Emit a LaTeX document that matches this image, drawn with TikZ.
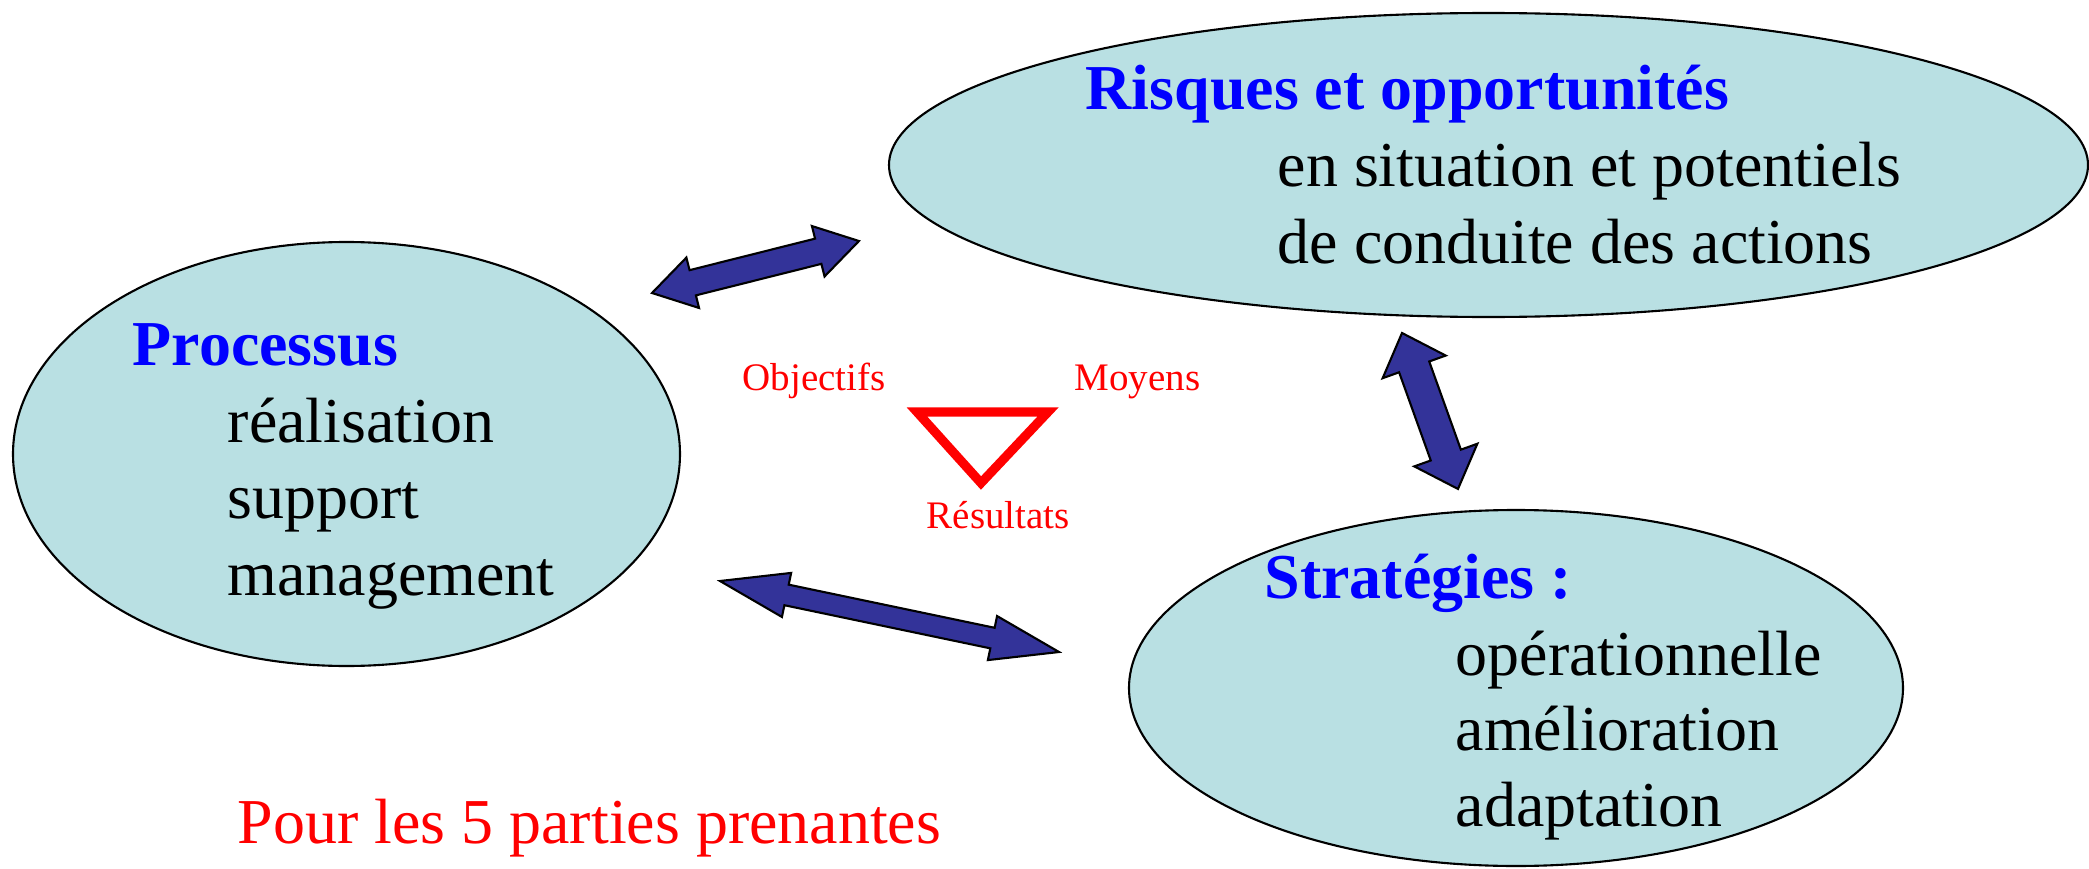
\documentclass[tikz,border=0pt]{standalone}
\usepackage{fontspec}
\setmainfont{Liberation Serif}
\usetikzlibrary{shapes.geometric}
\definecolor{bleuclair}{RGB}{185,224,227}
\definecolor{bleufleche}{RGB}{51,51,153}
\tikzset{
  bulle/.style={ellipse, draw, fill=bleuclair, line width=0.6pt, inner sep=0},
  titre/.style={anchor=base west, inner sep=0, text=blue, font=\fontsize{18.2}{21.8}\selectfont\bfseries},
  ligne/.style={anchor=base west, inner sep=0, font=\fontsize{18.2}{21.8}\selectfont},
  etiq/.style={anchor=base west, inner sep=0, text=red, font=\fontsize{11.1}{13}\selectfont},
  % longueur, largeur du corps, largeur de la pointe, longueur de la pointe
  pics/flechedouble/.style n args={4}{code={
    \draw[fill=bleufleche, line width=0.6pt, line join=miter]
      (0,0) -- (#4,#3/2) -- (#4,#2/2) -- (#1-#4,#2/2) -- (#1-#4,#3/2) -- (#1,0)
      -- (#1-#4,-#3/2) -- (#1-#4,-#2/2) -- (#4,-#2/2) -- (#4,-#3/2) -- cycle;}}
}
\begin{document}
\begin{tikzpicture}
    \useasboundingbox (0,0) rectangle (20.89,8.68);
    % les trois bulles
    \node[bulle, minimum width=11.99cm, minimum height=3.04cm] (risques) at (14.885,7.03) {};
    \node[bulle, minimum width=6.67cm, minimum height=4.24cm] (processus) at (3.465,4.14) {};
    \node[bulle, minimum width=7.74cm, minimum height=3.56cm] (strategies) at (15.16,1.80) {};

    \node[titre] (t1) at (10.85,7.59) {Risques et opportunités};
    \node[ligne] (l11) at (12.77,6.81) {en situation et potentiels};
    \node[ligne] (l12) at (12.77,6.05) {de conduite des actions};

    \node[titre] (t2) at (1.32,5.03) {Processus};
    \node[ligne] (l21) at (2.27,4.26) {réalisation};
    \node[ligne] (l22) at (2.27,3.50) {support};
    \node[ligne] (l23) at (2.27,2.73) {management};

    \node[titre] (t3) at (12.64,2.70) {Stratégies :};
    \node[ligne] (l31) at (14.55,1.93) {opérationnelle};
    \node[ligne] (l32) at (14.55,1.18) {amélioration};
    \node[ligne] (l33) at (14.55,0.42) {adaptation};

    \node[ligne, text=red] (parties) at (2.37,0.25) {Pour les 5 parties prenantes};

    % triangle objectifs / moyens / resultats
    \node[etiq] (obj) at (7.42,4.78) {Objectifs};
    \node[etiq] (moy) at (10.74,4.78) {Moyens};
    \node[etiq] (res) at (9.26,3.40) {Résultats};
    \draw[red, line width=2.6pt, line join=miter] (9.17,4.56) -- (10.48,4.56) -- (9.81,3.85) -- cycle;

    % fleches doubles
    \coordinate (f1) at (6.52,5.75);
    \coordinate (f2) at (7.20,2.87);
    \coordinate (f3) at (14.02,5.35);
    \pic[rotate=14.1] at (f1) {flechedouble={2.134}{0.26}{0.52}{0.42}};
    \pic[rotate=-11.83] at (f2) {flechedouble={3.464}{0.21}{0.45}{0.68}};
    \pic[rotate=-70.25] at (f3) {flechedouble={1.657}{0.32}{0.67}{0.36}};
\end{tikzpicture}
\end{document}
